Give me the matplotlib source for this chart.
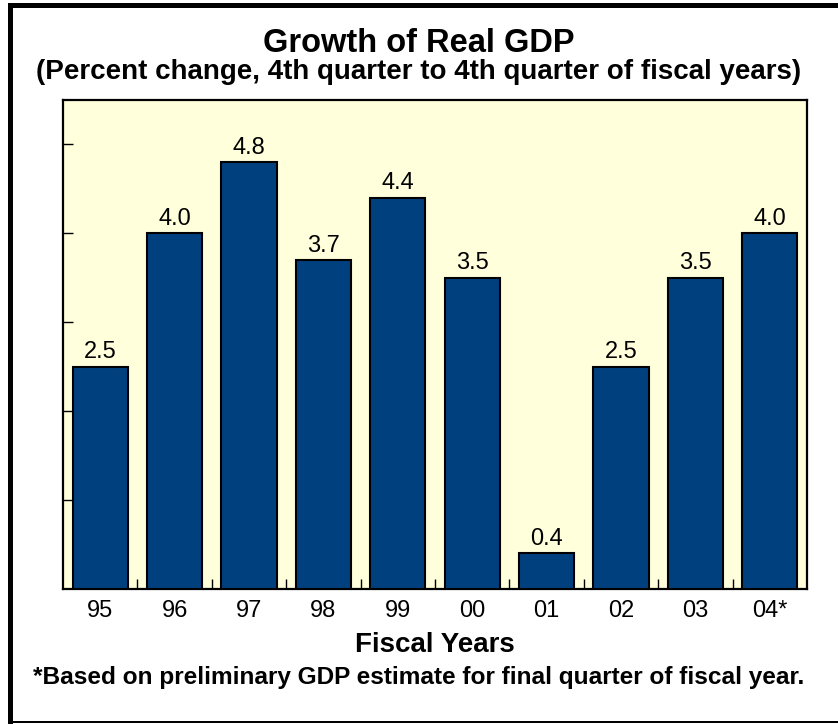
import numpy as np
import matplotlib.pyplot as plt
from matplotlib.patches import Rectangle

plt.rcParams["font.family"] = ["Liberation Sans", "DejaVu Sans"]

# Fiscal year labels and real GDP growth (percent, Q4 to Q4)
years = ["95", "96", "97", "98", "99", "00", "01", "02", "03", "04*"]
growth = [2.5, 4.0, 4.8, 3.7, 4.4, 3.5, 0.4, 2.5, 3.5, 4.0]

W, H = 838, 724
BAR_BLUE = "#00407F"
PANEL_YELLOW = "#FFFFDC"


# Convert a pixel box (x0, y0, x1, y1 measured from top-left) to figure fractions
def px_box(x0, y0, x1, y1):
    return [x0 / W, 1 - y1 / H, (x1 - x0) / W, (y1 - y0) / H]


fig = plt.figure(figsize=(W / 100, H / 100), dpi=100)
fig.patch.set_facecolor("white")

# Outer frame: heavy left and top edges, thin bottom edge
for box in [(8, 3, 13, H), (8, 3, W, 8), (8, 721, W, 723)]:
    fx, fy, fw, fh = px_box(*box)
    fig.add_artist(Rectangle((fx, fy), fw, fh, transform=fig.transFigure,
                             facecolor="black", edgecolor="none"))

ax = fig.add_axes(px_box(63, 100, 807, 589))
ax.set_facecolor(PANEL_YELLOW)

x = np.arange(len(years))
bars = ax.bar(x, growth, width=0.74, color=BAR_BLUE, edgecolor="black", linewidth=1.5, zorder=3)
ax.bar_label(bars, labels=[f"{v:.1f}" for v in growth], padding=2.5, fontsize=17)

ax.set_xlim(-0.5, len(years) - 0.5)
ax.set_ylim(0, 5.5)

for side in ax.spines.values():
    side.set_linewidth(1.6)

ax.set_yticks(np.arange(1, 6))
ax.set_yticklabels([])
ax.tick_params(axis="y", direction="in", length=7, width=1)

ax.set_xticks(x)
ax.set_xticklabels(years, fontsize=17)
ax.set_xticks(x[:-1] + 0.5, minor=True)
ax.tick_params(axis="x", which="major", length=0, pad=8)
ax.tick_params(axis="x", which="minor", direction="in", length=7, width=1)

fig.text(0.5, 1 - 52 / H, "Growth of Real GDP", ha="center", va="baseline",
         fontsize=23.5, fontweight="bold")
fig.text(0.5, 1 - 79 / H, "(Percent change, 4th quarter to 4th quarter of fiscal years)",
         ha="center", va="baseline", fontsize=20, fontweight="bold")
fig.text(435 / W, 1 - 652 / H, "Fiscal Years", ha="center", va="baseline",
         fontsize=20, fontweight="bold")
fig.text(0.5, 1 - 684 / H, "*Based on preliminary GDP estimate for final quarter of fiscal year.",
         ha="center", va="baseline", fontsize=17.6, fontweight="bold")

fig.savefig("out.png", dpi=100)
